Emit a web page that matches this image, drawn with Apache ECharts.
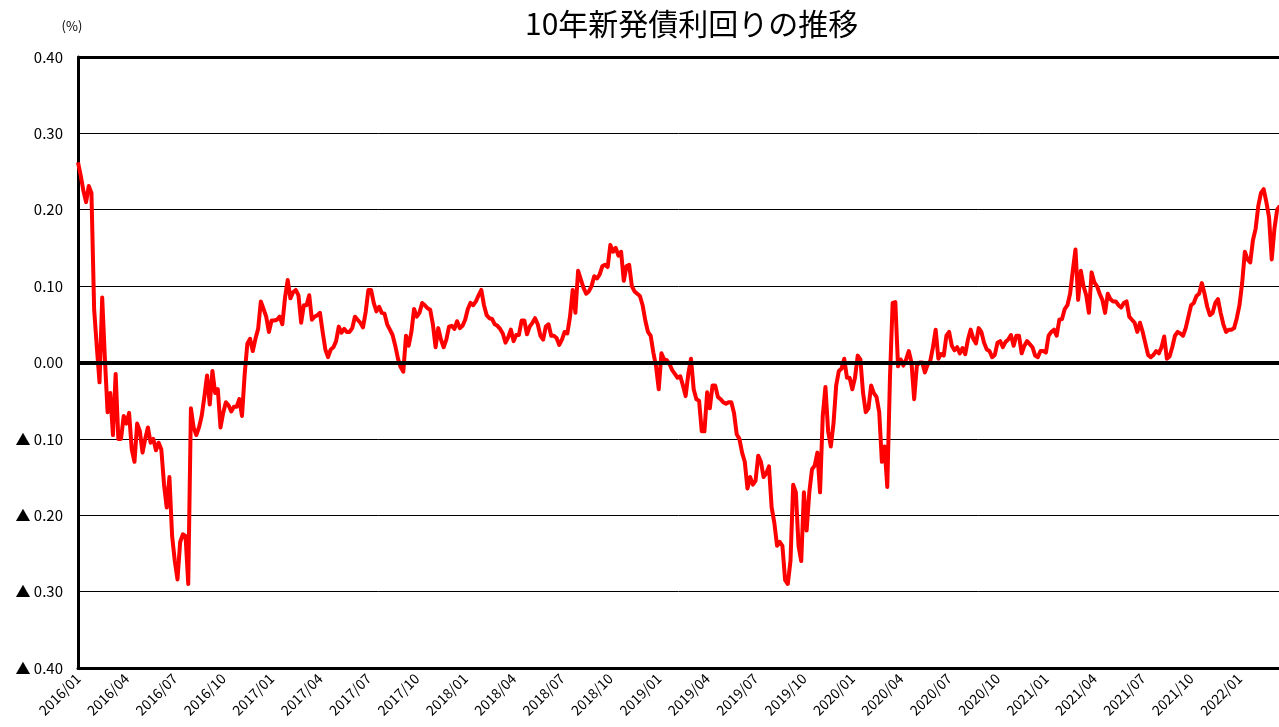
<!DOCTYPE html>
<html>
<head>
<meta charset="utf-8">
<script src="https://cdn.jsdelivr.net/npm/echarts@6/dist/echarts.min.js"></script>
<style>
  html, body { margin: 0; padding: 0; background: #fff; }
  #chart { width: 1279px; height: 727px; }
</style>
</head>
<body>
<div id="chart"></div>
<script>
// 10年新発債利回り（%）: 1ヶ月あたり6点（約半週ごと）
const y2016 = [
  0.262, 0.245, 0.225, 0.21, 0.231, 0.222,
  0.07, 0.02, -0.026, 0.085, 0.005, -0.065,
  -0.04, -0.095, -0.015, -0.1, -0.1, -0.07,
  -0.08, -0.066, -0.114, -0.13, -0.08, -0.09,
  -0.118, -0.1, -0.085, -0.105, -0.1, -0.115,
  -0.105, -0.114, -0.16, -0.19, -0.15, -0.227,
  -0.26, -0.284, -0.235, -0.225, -0.227, -0.29,
  -0.06, -0.085, -0.095, -0.085, -0.07, -0.045,
  -0.017, -0.055, -0.011, -0.04, -0.035, -0.085,
  -0.066, -0.052, -0.056, -0.064, -0.058, -0.058,
  -0.048, -0.07, -0.015, 0.025, 0.031, 0.015,
  0.031, 0.044, 0.08, 0.07, 0.06, 0.04
];
const y2017 = [
  0.055, 0.055, 0.056, 0.06, 0.05, 0.085,
  0.108, 0.084, 0.092, 0.095, 0.088, 0.052,
  0.075, 0.075, 0.088, 0.056, 0.06, 0.062,
  0.065, 0.04, 0.017, 0.007, 0.017, 0.02,
  0.028, 0.047, 0.039, 0.044, 0.04, 0.04,
  0.045, 0.06, 0.056, 0.052, 0.046, 0.066,
  0.095, 0.095, 0.078, 0.067, 0.073, 0.065,
  0.064, 0.05, 0.043, 0.036, 0.022, 0.005,
  -0.006, -0.012, 0.035, 0.022, 0.04, 0.07,
  0.06, 0.065, 0.078, 0.075, 0.071, 0.069,
  0.05, 0.02, 0.045, 0.03, 0.02, 0.03,
  0.047, 0.048, 0.044, 0.054, 0.045, 0.048
];
const y2018 = [
  0.056, 0.07, 0.078, 0.075, 0.08, 0.088,
  0.095, 0.075, 0.062, 0.058, 0.057, 0.05,
  0.048, 0.044, 0.038, 0.026, 0.033, 0.043,
  0.028, 0.036, 0.036, 0.055, 0.055, 0.037,
  0.047, 0.052, 0.058, 0.05, 0.035, 0.03,
  0.047, 0.05, 0.035, 0.035, 0.032, 0.023,
  0.03, 0.04, 0.038, 0.06, 0.095, 0.065,
  0.12, 0.109, 0.098, 0.09, 0.093, 0.1,
  0.113, 0.11, 0.115, 0.126, 0.128, 0.125,
  0.154, 0.145, 0.15, 0.14, 0.145, 0.107,
  0.126, 0.128, 0.1, 0.093, 0.09, 0.087,
  0.075, 0.055, 0.04, 0.035, 0.013, -0.005
];
const y2019 = [
  -0.035, 0.012, 0.004, 0.003, -0.002, -0.01,
  -0.015, -0.02, -0.018, -0.03, -0.044, -0.015,
  0.005, -0.035, -0.048, -0.05, -0.09, -0.09,
  -0.039, -0.06, -0.03, -0.03, -0.045, -0.048,
  -0.052, -0.054, -0.052, -0.052, -0.066, -0.094,
  -0.1, -0.118, -0.13, -0.165, -0.15, -0.16,
  -0.155, -0.122, -0.13, -0.15, -0.145, -0.136,
  -0.19, -0.21, -0.24, -0.235, -0.24, -0.285,
  -0.29, -0.26, -0.16, -0.17, -0.24, -0.26,
  -0.17, -0.22, -0.17, -0.14, -0.135, -0.118,
  -0.17, -0.07, -0.032, -0.09, -0.11, -0.08,
  -0.03, -0.011, -0.008, 0.005, -0.02, -0.02
];
const y2020 = [
  -0.035, -0.02, 0.009, 0.004, -0.04, -0.065,
  -0.06, -0.03, -0.04, -0.045, -0.065, -0.13,
  -0.11, -0.163, -0.02, 0.078, 0.079, -0.005,
  0.004, -0.004, 0.004, 0.015, 0.0, -0.048,
  -0.004, 0.0, 0.0, -0.013, -0.003, 0.002,
  0.02, 0.043, 0.005, 0.011, 0.009, 0.035,
  0.04, 0.022, 0.016, 0.02, 0.012, 0.019,
  0.011, 0.03, 0.043, 0.031, 0.025, 0.045,
  0.04, 0.026, 0.017, 0.015, 0.007, 0.01,
  0.026, 0.028, 0.02, 0.027, 0.03, 0.036,
  0.022, 0.035, 0.035, 0.012, 0.022, 0.028,
  0.024, 0.02, 0.009, 0.007, 0.015, 0.015
];
const y2021 = [
  0.013, 0.035, 0.04, 0.043, 0.035, 0.056,
  0.057, 0.07, 0.075, 0.09, 0.12, 0.148,
  0.082, 0.12, 0.1, 0.088, 0.065, 0.118,
  0.105, 0.1, 0.09, 0.082, 0.065, 0.09,
  0.083, 0.08, 0.08, 0.075, 0.072, 0.078,
  0.08, 0.06, 0.056, 0.052, 0.04, 0.052,
  0.04, 0.025, 0.01, 0.007, 0.01, 0.015,
  0.012, 0.02, 0.034, 0.005, 0.008, 0.02,
  0.035, 0.04, 0.038, 0.035, 0.045, 0.06,
  0.075, 0.078, 0.087, 0.09, 0.104, 0.09,
  0.073, 0.062, 0.065, 0.078, 0.083, 0.065,
  0.05, 0.04, 0.043, 0.043, 0.045, 0.058
];
const y2022 = [
  0.075, 0.104, 0.145, 0.135, 0.131, 0.16,
  0.175, 0.205, 0.222, 0.227, 0.21, 0.19,
  0.135, 0.175, 0.2, 0.205
];
const years = [2016, 2017, 2018, 2019, 2020, 2021, 2022];
const yearData = [y2016, y2017, y2018, y2019, y2020, y2021, y2022];
const yTicks = [-0.4, 0.4, 0.1];

// x は 2016/01 からの月数
let points = [];
years.forEach(function (yr, j) {
  yearData[j].forEach(function (v, i) {
    points.push([(yr - 2016) * 12 + i / 6, v]);
  });
});

const font = '"Noto Sans CJK JP", "Noto Sans", sans-serif';
let chart = echarts.init(document.getElementById('chart'));
chart.setOption({
  backgroundColor: '#fff',
  animation: false,
  title: {
    text: '10年新発債利回りの推移',
    left: 520,
    top: 4,
    textStyle: { fontFamily: font, fontSize: 30, fontWeight: 'normal', color: '#000' }
  },
  grid: { left: 78, right: 0, top: 57, bottom: 59 },
  xAxis: {
    type: 'value',
    min: 0,
    max: 74.45,
    interval: 3,
    axisLine: { onZero: false, lineStyle: { color: '#000', width: 3 } },
    axisTick: { show: false },
    splitLine: { show: false },
    axisLabel: {
      rotate: 45,
      margin: 8,
      showMaxLabel: false,
      fontFamily: font,
      fontSize: 14,
      color: '#000',
      formatter: function (v) {
        if (Math.abs(v % 3) > 1e-6) return '';
        const m = Math.round(v);
        return (2016 + Math.floor(m / 12)) + '/' + String(m % 12 + 1).padStart(2, '0');
      }
    }
  },
  yAxis: {
    type: 'value',
    min: yTicks[0],
    max: yTicks[1],
    interval: yTicks[2],
    name: '(%)',
    nameGap: 24,
    nameTextStyle: { fontFamily: font, fontSize: 13, color: '#000', padding: [0, 12, 0, 0] },
    axisLine: { show: true, onZero: false, lineStyle: { color: '#000', width: 3 } },
    axisTick: { show: false },
    splitLine: { lineStyle: { color: '#000', width: 1 } },
    axisLabel: {
      margin: 15,
      fontFamily: font,
      fontSize: 15,
      color: '#000',
      formatter: function (v) {
        return (v < -1e-9 ? '▲ ' : '') + Math.abs(v).toFixed(2);
      }
    }
  },
  series: [{
    type: 'line',
    data: points,
    showSymbol: false,
    lineStyle: { color: '#ff0000', width: 4, join: 'round' },
    markLine: {
      silent: true,
      symbol: ['none', 'none'],
      label: { show: false },
      data: [
        { yAxis: 0, lineStyle: { color: '#000', width: 4, type: 'solid' } },
        { yAxis: 0.4, lineStyle: { color: '#000', width: 3, type: 'solid' } }
      ]
    }
  }]
});
</script>
</body>
</html>
